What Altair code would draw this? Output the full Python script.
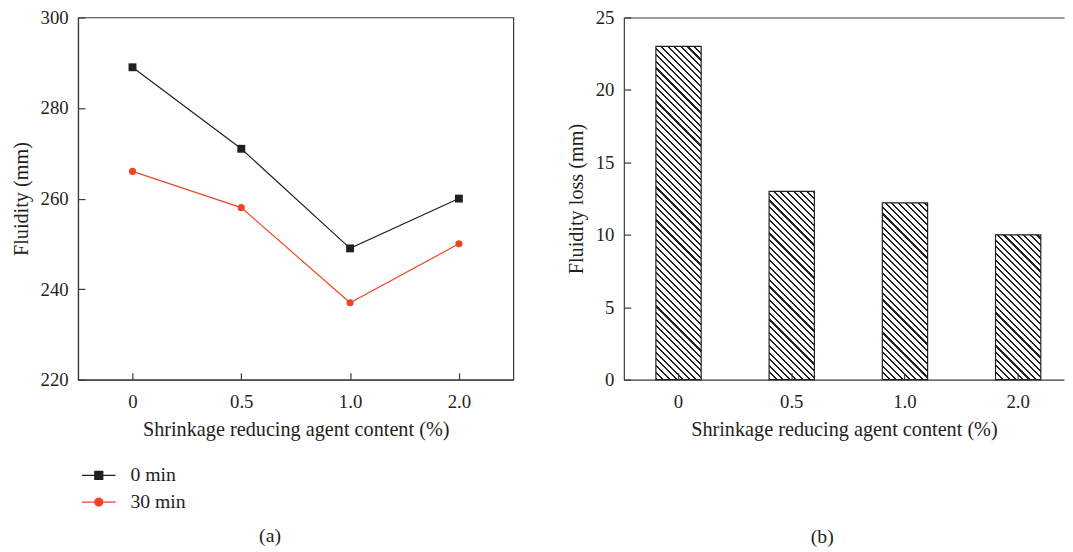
import altair as alt
import pandas as pd

# ---------------- data ----------------
contents = ["0", "0.5", "1.0", "2.0"]
series_names = ["0 min", "30 min"]
fluidity_0min = [289, 271, 249, 260]
fluidity_30min = [266, 258, 237, 250]
fluidity_loss = [23, 13, 12.2, 10]
y1_ticks = [220, 240, 260, 280, 300]
y2_ticks = [0, 5, 10, 15, 20, 25]

# ---------------- style ----------------
FONT = "Liberation Serif"
TXT = "#231f20"
AX = "#3a3a3a"
colors = ["#231f20", "#ef4524"]
shapes = ["square", "circle"]
marker_sizes = [64, 52]
legend_paths = [
    "M-1,0H1M-0.24,-0.24H0.24V0.24H-0.24Z",
    "M-1,0H1M0.24,0A0.24,0.24 0 1,1 -0.24,0A0.24,0.24 0 1,1 0.24,0Z",
]
W1, W2, H = 441, 446, 367
TICK = 7

df_line = pd.DataFrame({
    "content": contents * 2,
    "series": [series_names[0]] * len(contents) + [series_names[1]] * len(contents),
    "fluidity": fluidity_0min + fluidity_30min,
})
df_bar = pd.DataFrame({"content": contents, "loss": fluidity_loss})

X_TITLE = "Shrinkage reducing agent content (%)"


def main_x_axis():
    return alt.Axis(orient="bottom", title=X_TITLE, labelAngle=0, ticks=False, tickSize=0,
                    labelPadding=13, titlePadding=9)


def tick_x_axis():
    return alt.Axis(orient="top", offset=-H, labels=False, domain=False, ticks=True,
                    tickSize=TICK, title=None, zindex=1)


def main_y_axis(title, values):
    return alt.Axis(orient="left", title=title, values=values, ticks=False, tickSize=0,
                    labelPadding=10, titlePadding=9)


def tick_y_axis(values, width):
    return alt.Axis(orient="right", offset=-width, values=values, labels=False, domain=False,
                    ticks=True, tickSize=TICK, title=None, zindex=1)


# ---------------- left panel ----------------
xs1 = alt.Scale(type="point", padding=0.5)
ys1 = alt.Scale(domain=[y1_ticks[0], y1_ticks[-1]], nice=False, zero=False)

base1 = alt.Chart(df_line)
lines = base1.mark_line(strokeWidth=1.2).encode(
    x=alt.X("content:N", sort=contents, scale=xs1, axis=main_x_axis()),
    y=alt.Y("fluidity:Q", scale=ys1, axis=main_y_axis("Fluidity (mm)", y1_ticks)),
    color=alt.Color("series:N", scale=alt.Scale(domain=series_names, range=colors), legend=None),
)

point_layers = []
for i, name in enumerate(series_names):
    xa = tick_x_axis() if i == 0 else None
    ya = tick_y_axis(y1_ticks, W1) if i == 0 else None
    pl = base1.transform_filter(alt.datum.series == name).mark_point(
        shape=shapes[i], filled=True, size=marker_sizes[i], opacity=1
    ).encode(
        x=alt.X("content:N", sort=contents, scale=xs1, axis=xa),
        y=alt.Y("fluidity:Q", scale=ys1, axis=ya),
        color=alt.Color(
            "series:N",
            scale=alt.Scale(domain=[name], range=[colors[i]]),
            legend=alt.Legend(
                orient="none", legendX=3, legendY=446 + 27 * i, title=None,
                symbolType=legend_paths[i], symbolSize=1156, symbolStrokeWidth=1.2,
                symbolStrokeColor=colors[i], symbolFillColor=colors[i],
                labelFont=FONT, labelFontSize=20, labelColor=TXT, labelOffset=14, padding=0,
            ),
        ),
    )
    point_layers.append(pl)

left = alt.layer(lines, *point_layers).resolve_scale(color="independent").resolve_axis(
    x="independent", y="independent"
).properties(
    width=W1, height=H,
    view=alt.ViewBackground(stroke=AX, strokeWidth=1.2),
    title=alt.TitleParams("(a)", orient="bottom", anchor="middle", frame="group",
                          dx=-26, offset=14, font=FONT, fontSize=20, fontWeight="normal", color=TXT),
)

# ---------------- right panel ----------------
xs2 = alt.Scale(type="band", paddingInner=0.6, paddingOuter=0.244, align=0.58)
ys2 = alt.Scale(domain=[y2_ticks[0], y2_ticks[-1]], nice=False, zero=True)

step2 = W2 / (len(contents) - 0.6 + 2 * 0.244)
bw2 = step2 * (1 - 0.6)


def hatch(w, h, period=6.7, ink=0.32):
    span = w + h
    dt = period / span
    a = span / (w * w + h * h)
    stops = [{"offset": 0, "color": "white"}]
    k = 0
    while k * dt < 1:
        s = k * dt
        e = min(s + ink * dt, 1)
        stops += [
            {"offset": s, "color": "white"},
            {"offset": s, "color": TXT},
            {"offset": e, "color": TXT},
            {"offset": e, "color": "white"},
        ]
        k += 1
    stops.append({"offset": 1, "color": "white"})
    return {"gradient": "linear", "x1": 0, "y1": 1, "x2": w * a, "y2": 1 - h * a, "stops": stops}


base2 = alt.Chart(df_bar)
bar_layers = []
for i, c in enumerate(contents):
    h_px = fluidity_loss[i] / y2_ticks[-1] * H
    if i == 0:
        xa = main_x_axis()
        ya = main_y_axis("Fluidity loss (mm)", y2_ticks)
    elif i == 1:
        xa = tick_x_axis()
        ya = tick_y_axis(y2_ticks, W2)
    elif i == 2:
        xa = alt.Axis(orient="top", labels=False, ticks=False, domain=True, title=None)
        ya = None
    else:
        xa = None
        ya = None
    bl = base2.transform_filter(alt.datum.content == c).mark_bar(
        fill=hatch(bw2, h_px), stroke=TXT, strokeWidth=1.2
    ).encode(
        x=alt.X("content:N", sort=contents, scale=xs2, axis=xa),
        y=alt.Y("loss:Q", scale=ys2, axis=ya),
    )
    bar_layers.append(bl)

right = alt.layer(*bar_layers).resolve_axis(x="independent", y="independent").properties(
    width=W2, height=H,
    view=alt.ViewBackground(stroke="transparent"),
    title=alt.TitleParams("(b)", orient="bottom", anchor="middle", frame="group",
                          dx=-22, offset=88, font=FONT, fontSize=20, fontWeight="normal", color=TXT),
)

chart = alt.hconcat(left, right, spacing=52).properties(
    padding={"left": 2, "top": -4, "right": 0, "bottom": 0}
).configure(font=FONT).configure_axis(
    grid=False,
    labelFont=FONT, labelFontSize=19, labelColor=TXT,
    titleFont=FONT, titleFontSize=20.5, titleFontWeight="normal", titleColor=TXT,
    domainColor=AX, domainWidth=1.2, tickColor=AX, tickWidth=1.2,
).configure_legend(labelFont=FONT).configure_title(font=FONT).configure_view(stroke=AX, strokeWidth=1.2)

chart.save("out.html", embed_options={"renderer": "svg", "actions": False})
